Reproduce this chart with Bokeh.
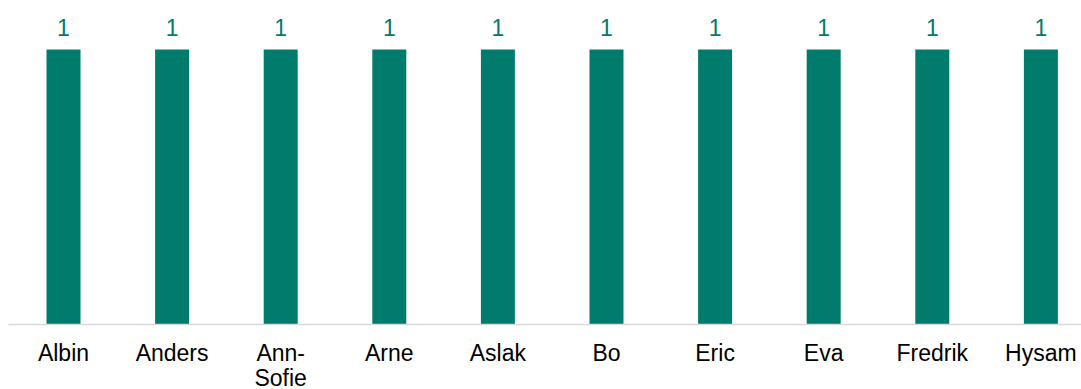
from bokeh.plotting import figure
from bokeh.models import Range1d, FixedTicker, ColumnDataSource
from bokeh.core.properties import value
from bokeh.embed import file_html
from bokeh.resources import INLINE

names = ["Albin", "Anders", "Ann-\nSofie", "Arne", "Aslak", "Bo", "Eric", "Eva", "Fredrik", "Hysam"]
counts = [1, 1, 1, 1, 1, 1, 1, 1, 1, 1]

positions = list(range(len(names)))
src = ColumnDataSource(dict(x=positions, y=counts, label=[str(c) for c in counts]))

TEAL = "#007B6C"
FONT = "Liberation Sans"

p = figure(frame_width=1073, frame_height=316, output_backend="svg", toolbar_location=None,
           x_range=Range1d(-0.5065, 9.374), y_range=Range1d(0, 1.149),
           min_border_left=8, min_border_right=0, min_border_top=8, min_border_bottom=0)

p.vbar(x="x", top="y", width=0.313, bottom=0, source=src, fill_color=TEAL, line_color=None)
p.text(x="x", y="y", text="label", source=src, text_align="center", text_baseline="alphabetic",
       y_offset=-22, text_color=TEAL, text_font=value(FONT), text_font_size="23px")

p.yaxis.visible = False
p.grid.visible = False
p.outline_line_color = None

ax = p.xaxis[0]
ax.ticker = FixedTicker(ticks=positions)
ax.major_label_overrides = {i: n for i, n in zip(positions, names)}
ax.major_tick_line_color = None
ax.minor_tick_line_color = None
ax.major_tick_out = 0
ax.major_tick_in = 0
ax.axis_line_color = "#D9D9D9"
ax.axis_line_width = 1.5
ax.major_label_text_font = FONT
ax.major_label_text_font_size = "23px"
ax.major_label_text_color = "#000000"
ax.major_label_standoff = 15
ax.major_label_text_line_height = 0.98

open("out.html", "w").write(file_html(p, INLINE))
